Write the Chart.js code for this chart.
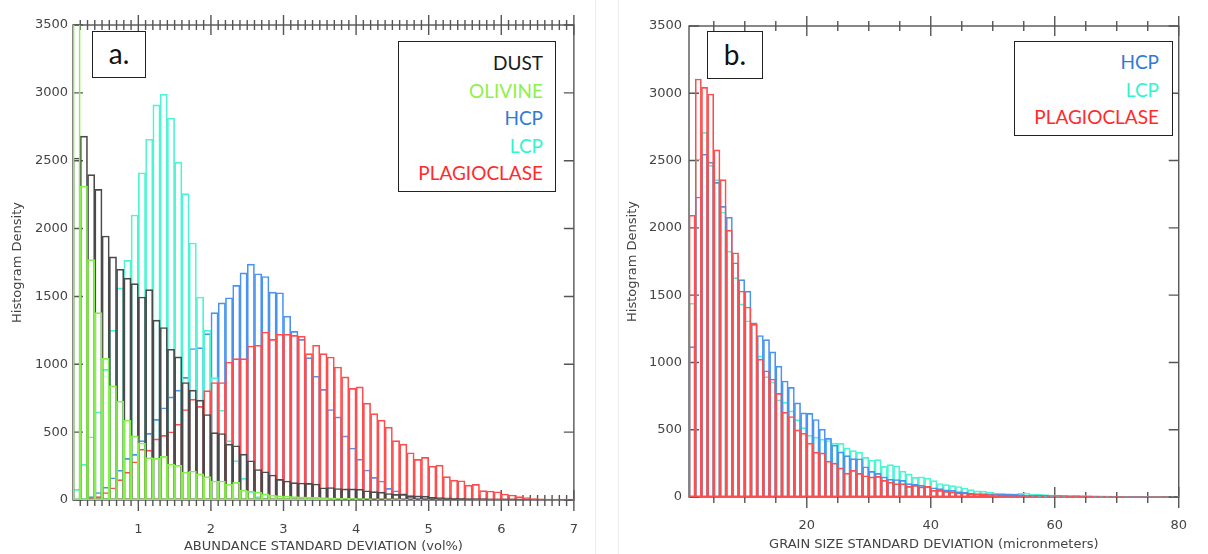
<!DOCTYPE html>
<html>
<head>
<meta charset="utf-8">
<script src="https://cdn.jsdelivr.net/npm/chart.js@4.4.1/dist/chart.umd.min.js"></script>
<style>
  body { margin: 0; width: 1208px; height: 554px; background: #fff; position: relative; overflow: hidden; font-family: Lato, sans-serif; }
  canvas { position: absolute; top: 0; }
  #chartA { left: 0; }
  #chartB { left: 608px; }
  .tag { position: absolute; box-sizing: border-box; border: 1.5px solid #222; background: #fff; color: #111; font-size: 28px; text-align: center; }
  .legend { position: absolute; box-sizing: border-box; border: 1.5px solid #222; background: #fff; text-align: right; font-size: 19px; line-height: 27.5px; }
  .sep { position: absolute; top: 0; width: 1px; height: 554px; background: #ededed; }
</style>
</head>
<body>
<canvas id="chartA" width="600" height="554"></canvas>
<canvas id="chartB" width="600" height="554"></canvas>
<div class="sep" style="left:595px"></div>
<div class="sep" style="left:618px"></div>

<div class="tag" style="left:92px;top:31px;width:54px;height:47px;line-height:43px">a.</div>
<div class="legend" style="left:398px;top:41px;width:158px;height:151px;padding:7px 12px 0 0">
  <div style="color:#1a1a1a">DUST</div>
  <div style="color:#8ef04a">OLIVINE</div>
  <div style="color:#2e7bd6">HCP</div>
  <div style="color:#2ff5cc">LCP</div>
  <div style="color:#ff2b2b">PLAGIOCLASE</div>
</div>

<div class="tag" style="left:707px;top:31px;width:56px;height:48px;line-height:44px">b.</div>
<div class="legend" style="left:1014px;top:41px;width:159px;height:95px;padding:6px 13px 0 0">
  <div style="color:#2e7bd6">HCP</div>
  <div style="color:#2ff5cc">LCP</div>
  <div style="color:#ff2b2b">PLAGIOCLASE</div>
</div>

<script>
// panel a: abundance std dev, bins of 0.1 vol% from 0.1 to 7.0
const dust = [2520, 2681, 2397, 2289, 1945, 1791, 1700, 1635, 1594, 1496,
  1550, 1325, 1271, 1111, 1055, 866, 810, 736, 630, 497,
  490, 412, 400, 338, 289, 225, 208, 184, 152, 140,
  128, 125, 122, 118, 90, 92, 85, 82, 82, 80,
  68, 62, 58, 48, 42, 45, 32, 30, 28, 20,
  18, 16, 15, 12, 11, 10, 10, 9, 9, 8,
  8, 7, 7, 6, 6, 5, 5, 5, 4];
const olivine = [5000, 2313, 1771, 1381, 1043, 841, 729, 589, 473, 420,
  312, 307, 322, 264, 255, 205, 214, 192, 172, 140,
  140, 117, 130, 74, 66, 58, 45, 35, 30, 28,
  25, 24, 22, 20, 18, 16, 14, 13, 12, 11,
  10, 9, 9, 8, 8, 7, 6, 5, 4, 3,
  3, 2, 2, 2, 2, 1, 1, 1, 1, 1,
  1, 1, 1, 1, 1, 1, 1, 1, 1];
const hcp = [3, 8, 25, 55, 95, 164, 220, 307, 336, 437,
  491, 594, 680, 760, 810, 903, 1116, 1123, 1226, 1381,
  1453, 1490, 1581, 1674, 1738, 1667, 1647, 1532, 1527, 1354,
  1243, 1183, 1049, 912, 815, 667, 613, 472, 383, 301,
  221, 167, 140, 86, 68, 40, 25, 15, 10, 8,
  6, 5, 4, 3, 3, 2, 2, 2, 1, 1,
  1, 1, 1, 1, 1, 1, 1, 1, 1];
const lcp = [78, 262, 466, 650, 962, 1251, 1563, 1766, 2100, 2411,
  2658, 2911, 2990, 2815, 2490, 2258, 1894, 1496, 1252, 902,
  662, 438, 290, 159, 64, 25, 12, 8, 5, 4,
  3, 3, 2, 2, 2, 1, 1, 1, 1, 1,
  1, 1, 1, 1, 1, 1, 1, 1, 1, 1,
  1, 1, 1, 1, 1, 1, 1, 1, 1, 1,
  1, 1, 1, 1, 1, 1, 1, 1, 1];
const plag = [2, 5, 12, 25, 55, 90, 150, 205, 282, 375,
  368, 450, 476, 503, 559, 667, 743, 690, 806, 866,
  866, 1017, 1042, 1042, 1135, 1140, 1238, 1184, 1221, 1221,
  1213, 1208, 1078, 1140, 1078, 1054, 980, 907, 823, 833,
  714, 637, 588, 537, 438, 412, 348, 299, 314, 250,
  257, 172, 147, 142, 110, 115, 69, 66, 61, 44,
  37, 25, 17, 10, 8, 7, 7, 6, 6];

// panel b: grain size std dev, bins of 1 micron from 1 to 80
const hcpB = [1118, 2229, 2548, 2489, 2338, 2160, 2079, 1741, 1615, 1530,
  1295, 1200, 1170, 1078, 972, 862, 815, 700, 625, 622,
  576, 504, 436, 386, 335, 308, 285, 284, 225, 190,
  175, 150, 132, 130, 123, 99, 94, 86, 79, 69,
  62, 54, 49, 40, 37, 30, 26, 25, 23, 22,
  20, 20, 19, 18, 15, 13, 12, 12, 11, 10,
  10, 9, 9, 8, 8, 7, 6, 6, 5, 5,
  4, 4, 3, 3, 3, 2, 2, 2, 2];
const lcpB = [1440, 2513, 2709, 2464, 2358, 2118, 1827, 1630, 1435, 1310,
  1284, 1049, 895, 855, 722, 705, 640, 575, 515, 460,
  445, 430, 420, 400, 398, 365, 345, 333, 295, 275,
  278, 228, 240, 232, 192, 172, 146, 150, 140, 122,
  100, 92, 85, 78, 67, 55, 46, 44, 36, 30,
  30, 26, 24, 28, 30, 22, 20, 18, 15, 14,
  12, 10, 12, 10, 9, 8, 7, 7, 6, 5,
  5, 4, 4, 3, 3, 3, 2, 2, 2];
const plagB = [2094, 3106, 3044, 2995, 2580, 2358, 1983, 1815, 1531, 1412,
  1284, 1025, 938, 877, 770, 630, 598, 499, 474, 400,
  333, 328, 267, 252, 217, 178, 198, 175, 158, 150,
  153, 123, 111, 99, 99, 79, 86, 74, 79, 49,
  49, 42, 37, 30, 30, 25, 22, 20, 18, 17,
  15, 14, 13, 12, 12, 11, 10, 10, 9, 10,
  9, 8, 8, 7, 7, 6, 6, 5, 5, 5,
  4, 4, 4, 3, 3, 3, 3, 2, 2];

const yTicks = [0, 500, 1000, 1500, 2000, 2500, 3000, 3500];
const majorA = [1, 2, 3, 4, 5, 6, 7];
const minorA = [];
for (let k = 2; k < 70; k++) if (k % 10) minorA.push(k / 10);
const majorB = [20, 40, 60, 80];
const minorB = [5, 10, 15, 25, 30, 35, 45, 50, 55, 65, 70, 75];

Chart.defaults.font.family = "'DejaVu Sans', sans-serif";
Chart.defaults.font.size = 13;
Chart.defaults.color = '#444';

function binCenters(first, width, n) {
  return Array.from({length: n}, (_, i) => first + width * (i + 0.5));
}

function hist(label, values, centers, color, order) {
  return {
    label: label,
    order: order,
    data: values.map((v, i) => ({x: centers[i], y: v})),
    backgroundColor: 'rgba(0,0,0,0)',
    borderColor: color,
    borderWidth: 1,
    borderSkipped: false,
    barPercentage: 1,
    categoryPercentage: 1,
    grouped: false,
    clip: 0
  };
}

// axis box with IDL style ticks
const frameTicks = {
  id: 'frameTicks',
  beforeDatasetsDraw(chart, args, opts) {
    const {ctx, chartArea: a, scales: {x, y}} = chart;
    ctx.save();
    ctx.strokeStyle = '#555';
    ctx.lineWidth = 1.4;
    ctx.strokeRect(a.left, a.top, a.right - a.left, a.bottom - a.top);
    ctx.beginPath();
    opts.minor.forEach(v => {
      const px = x.getPixelForValue(v);
      ctx.moveTo(px, a.top - 5); ctx.lineTo(px, a.top + 5);
      ctx.moveTo(px, a.bottom - 5); ctx.lineTo(px, a.bottom + 6);
    });
    opts.major.forEach(v => {
      const px = x.getPixelForValue(v);
      ctx.moveTo(px, a.top - 10); ctx.lineTo(px, a.top + 10);
      ctx.moveTo(px, a.bottom - 10); ctx.lineTo(px, a.bottom + 11);
    });
    yTicks.forEach(v => {
      const py = y.getPixelForValue(v);
      ctx.moveTo(a.left, py); ctx.lineTo(a.left + 10, py);
      ctx.moveTo(a.right, py); ctx.lineTo(a.right - 10, py);
    });
    ctx.stroke();
    ctx.restore();
  }
};

function makeChart(id, datasets, p) {
  return new Chart(document.getElementById(id), {
    type: 'bar',
    data: { datasets: datasets },
    options: {
      responsive: false,
      animation: false,
      layout: { padding: { left: 0, top: p.top, right: p.right, bottom: 0 } },
      plugins: {
        legend: { display: false },
        tooltip: { enabled: false },
        frameTicks: { major: p.major, minor: p.minor }
      },
      scales: {
        x: {
          type: 'linear',
          min: p.xmin,
          max: p.xmax,
          offset: false,
          grid: { display: false, drawTicks: false, offset: false },
          border: { display: false },
          ticks: {
            stepSize: p.step,
            autoSkip: false,
            maxRotation: 0,
            padding: p.xPad,
            callback: v => (Number.isInteger(v) && v !== p.xmin) ? String(v) : ''
          },
          title: { display: true, text: p.xTitle, color: '#444', padding: { top: 0, bottom: p.xTitlePad } },
          afterFit: s => { s.height = p.xHeight; }
        },
        y: {
          min: 0,
          max: 3500,
          grid: { display: false, drawTicks: false },
          border: { display: false },
          ticks: { stepSize: 500, padding: p.yPad, callback: v => String(v) },
          title: { display: true, text: 'Histogram Density', color: '#444', padding: { top: p.yTitlePad, bottom: 0 } },
          afterFit: s => { s.width = p.yWidth; }
        }
      }
    },
    plugins: [frameTicks]
  });
}

const binsA = binCenters(0.1, 0.1, dust.length);
makeChart('chartA', [
  hist('OLIVINE', olivine, binsA, '#86f04c', 0),
  hist('DUST', dust, binsA, '#4a4a4a', 1),
  hist('PLAGIOCLASE', plag, binsA, '#ff4d4d', 2),
  hist('LCP', lcp, binsA, '#4cf5d2', 3),
  hist('HCP', hcp, binsA, '#4b93f0', 4)
], {
  top: 25, right: 18, xmin: 0.1, xmax: 7, step: 1,
  major: majorA, minor: minorA,
  xPad: 22, xHeight: 54, xTitlePad: 0,
  xTitle: 'ABUNDANCE STANDARD DEVIATION (vol%)',
  yPad: 5, yWidth: 73, yTitlePad: 10
});

const binsB = binCenters(1, 1, hcpB.length);
makeChart('chartB', [
  hist('PLAGIOCLASE', plagB, binsB, '#ff4d4d', 0),
  hist('HCP', hcpB, binsB, '#4b93f0', 1),
  hist('LCP', lcpB, binsB, '#4cf5d2', 2)
], {
  top: 26, right: 12, xmin: 1, xmax: 80, step: 20,
  major: majorB, minor: minorB,
  xPad: 21, xHeight: 57, xTitlePad: 2,
  xTitle: 'GRAIN SIZE STANDARD DEVIATION (micronmeters)',
  yPad: 7, yWidth: 81, yTitlePad: 17
});
</script>
</body>
</html>
